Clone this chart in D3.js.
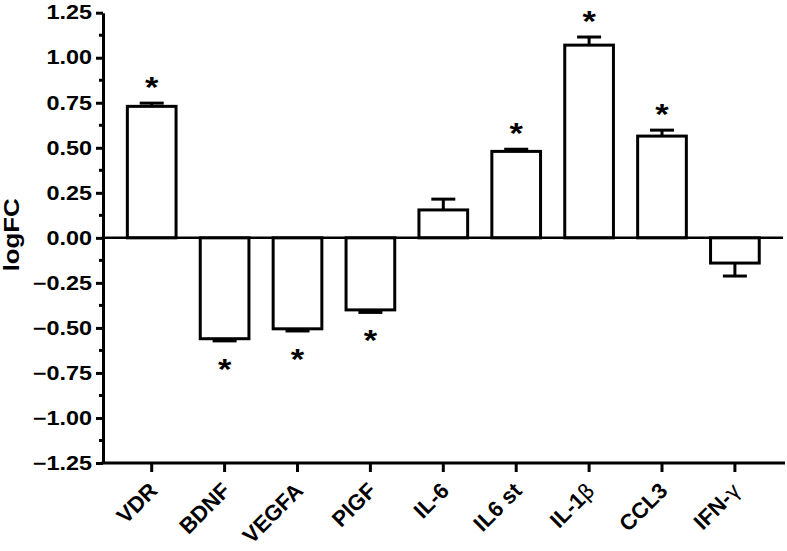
<!DOCTYPE html>
<html><head><meta charset="utf-8">
<script src="https://cdn.jsdelivr.net/npm/d3@7"></script>
<style>body{margin:0;background:#fff}svg{display:block}</style>
</head><body>
<script>
const categories = ["VDR","BDNF","VEGFA","PlGF","IL-6","IL6 st","IL-1\u03B2","CCL3","IFN-\u03B3"];
const values = [0.73,-0.56,-0.505,-0.40,0.155,0.48,1.07,0.565,-0.14];
const errors = [0.018,0.012,0.012,0.014,0.06,0.012,0.045,0.033,0.072];
const significant = [true,true,true,true,false,true,true,true,false];
const yTicks = [1.25,1.00,0.75,0.50,0.25,0.00,-0.25,-0.50,-0.75,-1.00,-1.25];

const W=787,H=551;
const svg=d3.select("body").append("svg").attr("width",W).attr("height",H);
const x0=103, x1=785;
const y=d3.scaleLinear().domain([-1.25,1.25]).range([463,12.7]);
const x=d3.scaleBand().domain(categories).range([115.25,771.35]).paddingInner(0.332).paddingOuter(0.166);
const font="'Liberation Sans', Arial, Helvetica, sans-serif";

// y axis
const yAxis=d3.axisLeft(y).tickValues(yTicks).tickSize(7).tickSizeOuter(0).tickPadding(5)
  .tickFormat(d=>d3.format(".2f")(d));
const gy=svg.append("g").attr("transform",`translate(${x0},0)`).call(yAxis);
gy.select(".domain").attr("stroke","#000").attr("stroke-width",3);
gy.selectAll(".tick line").attr("stroke","#000").attr("stroke-width",3);
gy.selectAll(".tick text").attr("font-family",font).attr("font-weight","bold").attr("font-size",19.5).attr("fill","#000")
  .attr("x",null).attr("transform","translate(-11,0) scale(1.2,1)");
// minor ticks
const minor=d3.range(-1.125,1.25,0.25);
svg.append("g").selectAll("line").data(minor).join("line")
  .attr("x1",x0-4).attr("x2",x0).attr("y1",d=>y(d)).attr("y2",d=>y(d))
  .attr("stroke","#000").attr("stroke-width",3);

// y label
svg.append("g").attr("transform",`translate(19,${y(0)-3})`)
  .append("text").attr("transform","rotate(-90) scale(1.2,1)")
  .attr("text-anchor","middle").attr("font-family",font).attr("font-weight","bold")
  .attr("font-size",21.5).text("logFC");

// x axis at bottom
svg.append("line").attr("x1",x0-1.5).attr("x2",x1).attr("y1",y(-1.25)).attr("y2",y(-1.25))
  .attr("stroke","#000").attr("stroke-width",3);
const gx=svg.append("g");
categories.forEach((c,i)=>{
  const cx=x(c)+x.bandwidth()/2;
  gx.append("line").attr("x1",cx).attr("x2",cx).attr("y1",y(-1.25)).attr("y2",y(-1.25)+9)
    .attr("stroke","#000").attr("stroke-width",3);
  const px=cx+7, py=y(-1.25)+29;
  const t=gx.append("g").attr("transform",`translate(${px},${py})`)
    .append("text").attr("transform","rotate(-45)")
    .attr("text-anchor","end").attr("font-family",font).attr("font-weight","bold").attr("font-size",22);
  const greek=c.match(/[\u03B2\u03B3]$/);
  if(greek){
    t.append("tspan").text(c.slice(0,-1));
    t.append("tspan").attr("font-family","'DejaVu Sans', sans-serif").attr("font-weight","normal").attr("font-size",21).text(greek[0]);
  } else t.text(c);
});

// bars
const data=categories.map((c,i)=>({c,v:values[i],e:errors[i],s:significant[i]}));
const bw=x.bandwidth();
svg.append("g").selectAll("rect").data(data).join("rect")
  .attr("x",d=>x(d.c)).attr("width",bw)
  .attr("y",d=>Math.min(y(d.v),y(0))).attr("height",d=>Math.abs(y(d.v)-y(0)))
  .attr("fill","#fff").attr("stroke","#000").attr("stroke-width",3);

// error bars
const eg=svg.append("g");
data.forEach(d=>{
  const cx=x(d.c)+bw/2;
  const end=d.v>=0?d.v+d.e:d.v-d.e;
  eg.append("line").attr("x1",cx).attr("x2",cx).attr("y1",y(d.v)).attr("y2",y(end)).attr("stroke","#000").attr("stroke-width",3);
  eg.append("line").attr("x1",cx-12).attr("x2",cx+12).attr("y1",y(end)).attr("y2",y(end)).attr("stroke","#000").attr("stroke-width",3);
  if(d.s){
    const ty=d.v>=0? y(end)-6 : y(end)+38;
    eg.append("text").attr("x",0).attr("y",0).attr("text-anchor","middle")
      .attr("transform",`translate(${cx},${ty}) scale(1.15,1)`)
      .attr("font-family",font).attr("font-weight","bold").attr("font-size",30).text("*");
  }
});

// zero line
svg.append("line").attr("x1",x0).attr("x2",783).attr("y1",y(0)).attr("y2",y(0))
  .attr("stroke","#000").attr("stroke-width",2.5);
</script>
</body></html>
